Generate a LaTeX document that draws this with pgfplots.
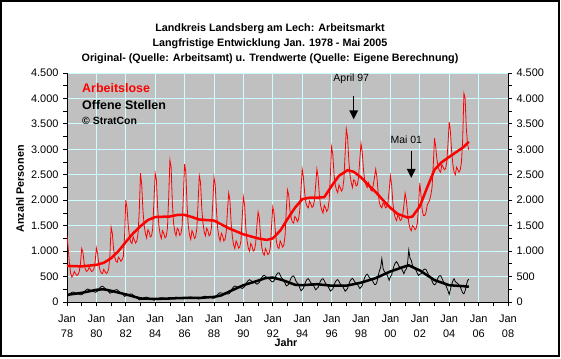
\documentclass[border=0pt]{standalone}
\usepackage{pgfplots}
\pgfplotsset{compat=1.18}
\usepackage{pgfplotstable}
\usepackage{fontspec}
\setmainfont{Liberation Sans}
\definecolor{plotbg}{RGB}{192,192,192}
\definecolor{gridc}{RGB}{204,255,255}
\definecolor{exred}{RGB}{255,0,0}

\pgfplotstableread{
al
1300
1050
750
560
490
530
600
560
520
540
600
750
1050
980
760
640
600
620
680
650
600
610
650
800
1060
950
740
620
570
560
640
600
560
580
650
900
1470
1350
1050
880
800
780
880
850
800
830
900
1300
2000
1850
1500
1280
1180
1150
1280
1220
1160
1200
1350
1800
2530
2300
1800
1500
1350
1260
1420
1380
1280
1300
1450
2000
2530
2400
1850
1500
1330
1250
1400
1350
1260
1290
1450
2050
2790
2650
1950
1550
1380
1300
1450
1420
1310
1340
1500
2100
2710
2550
1900
1500
1320
1230
1400
1350
1250
1280
1450
1950
2480
2350
1850
1550
1380
1300
1450
1400
1300
1330
1480
1950
2450
2300
1800
1450
1280
1200
1350
1300
1200
1230
1380
1800
2140
2000
1550
1280
1120
1050
1200
1150
1060
1080
1200
1650
2060
1900
1450
1200
1060
1000
1150
1100
1000
1020
1150
1500
1770
1650
1300
1080
960
920
1050
1000
930
960
1080
1500
1870
1750
1400
1180
1080
1050
1200
1150
1080
1120
1300
1800
2200
2100
1800
1650
1570
1550
1680
1650
1580
1620
1800
2200
2610
2450
2150
1950
1880
1850
1980
1930
1860
1880
2000
2300
2610
2450
2100
1900
1800
1750
1900
1850
1780
1820
2000
2500
3050
2900
2500
2300
2200
2150
2300
2250
2180
2220
2400
2900
3400
3250
2800
2500
2350
2250
2400
2380
2280
2300
2450
2800
3120
2950
2600
2400
2300
2250
2350
2300
2200
2180
2300
2450
2610
2450
2150
1950
1880
1850
1950
1920
1850
1870
1950
2200
2480
2300
1950
1750
1650
1600
1700
1680
1600
1620
1700
1900
2140
2000
1750
1550
1450
1400
1500
1480
1420
1450
1550
1900
2340
2100
1800
1700
1700
1750
1900
1950
2000
2100
2250
2700
3220
3050
2800
2650
2580
2550
2700
2650
2600
2620
2750
3100
3540
3350
2950
2700
2550
2500
2650
2600
2550
2600
2750
3200
4100
4000
3400
3100
2990
}\altable

\pgfplotstableread{
os
112
123
151
174
189
197
188
175
171
166
153
141
145
160
195
225
245
255
245
230
225
220
205
190
198
213
252
284
304
310
292
266
250
232
202
172
185
189
213
233
242
241
220
194
178
163
137
111
122
123
141
154
159
157
138
115
101
86
63
41
49
54
71
86
94
96
86
73
66
60
47
34
46
51
64
75
81
84
79
72
69
66
58
51
56
61
74
85
91
94
89
82
79
76
68
61
66
70
82
92
98
100
94
86
82
78
70
62
62
69
86
100
110
113
108
100
96
92
84
75
72
88
121
149
169
182
178
170
171
171
163
156
158
181
228
269
297
314
307
294
293
292
278
265
281
303
352
395
423
438
424
404
397
391
370
350
364
385
438
483
512
525
506
479
468
457
430
403
396
415
482
537
568
575
534
481
452
423
370
317
329
348
418
476
507
513
466
407
373
340
280
221
246
272
345
407
445
458
424
378
355
333
287
240
266
288
357
415
448
458
419
369
342
316
265
215
236
260
332
392
428
440
404
356
332
308
260
212
236
265
342
407
448
465
434
391
372
353
310
267
289
323
408
481
527
548
516
472
453
435
390
346
344
391
510
611
675
850
661
600
575
550
488
427
495
533
632
715
768
792
755
703
682
660
608
557
620
650
760
1020
860
820
720
680
650
620
560
520
550
554
598
633
647
641
595
539
503
468
412
356
339
357
426
483
514
518
471
411
376
342
282
221
150
253
342
415
458
400
380
363
332
300
238
177
160
220
330
420
450
}\ostable

\pgfplotstableread{
m v
0 710
12 700
24 730
30 770
36 860
42 1000
48 1180
54 1350
60 1490
66 1610
72 1670
84 1680
90 1710
96 1710
102 1670
108 1620
120 1600
132 1450
144 1330
156 1250
163 1220
168 1250
174 1400
180 1630
186 1850
192 2020
198 2050
204 2050
210 2060
216 2280
222 2480
229 2590
234 2560
240 2450
246 2300
252 2160
258 2000
264 1850
270 1730
278 1660
282 1680
288 1880
294 2250
300 2600
306 2750
312 2850
318 2950
324 3050
328 3150
}\altrend

\pgfplotstableread{
m v
0 140
12 180
24 240
30 250
36 220
48 150
54 110
60 70
72 60
84 70
96 80
108 80
120 100
126 130
132 200
144 330
156 420
162 470
168 480
176 430
186 340
192 330
204 350
216 320
228 320
240 380
252 470
264 600
276 700
279 720
288 620
300 430
312 330
324 310
328 300
}\ostrend

\begin{document}
\begin{tikzpicture}[x=1bp,y=1bp]
\useasboundingbox (0,0) rectangle (561,358);
\fill[white] (0,0) rectangle (561,358);
\draw[line width=2bp] (1,2) rectangle (559,357);

\pgfplotsset{
  myaxis/.style={
    scale only axis, width=441bp, height=229bp,
    at={(67bp,56bp)}, anchor=south west,
    xmin=0, xmax=360, ymin=0, ymax=4500,
    tick align=outside,
    major tick length=4bp, minor tick length=4bp,
    every tick/.style={black, line width=0.8bp},
    ticklabel style={font=\fontsize{11}{15}\selectfont},
    /pgf/number format/assume math mode=true,
    /pgf/number format/1000 sep={.},
    ytick={0,500,...,4500},
    minor ytick={250,750,...,4250},
    scaled y ticks=false,
  }
}

\begin{axis}[myaxis,
  axis x line*=bottom, axis y line*=left,
  axis line style={black, line width=0.8bp},
  axis background/.style={fill=plotbg},
  xtick={0,24,...,360},
  minor xtick={12,36,...,348},
  xticklabel style={align=center, yshift=-5bp},
  xticklabels={Jan\\78,Jan\\80,Jan\\82,Jan\\84,Jan\\86,Jan\\88,Jan\\90,Jan\\92,Jan\\94,Jan\\96,Jan\\98,Jan\\00,Jan\\02,Jan\\04,Jan\\06,Jan\\08},
  grid=major,
  major grid style={gridc, line width=1bp},
  yticklabel style={xshift=-1bp},
]
\addplot[exred, line width=0.8bp] table[x expr=\coordindex, y=al] {\altable};
\addplot[exred, line width=2.5bp] table[x=m, y=v] {\altrend};
\addplot[black, line width=0.8bp] table[x expr=\coordindex, y=os] {\ostable};
\addplot[black, line width=2.5bp] table[x=m, y=v] {\ostrend};

\node[font=\fontsize{10.5}{12}\selectfont] at (axis cs:232,4380) {April 97};
\draw[line width=0.9bp] (axis cs:234,4040) -- (axis cs:234,3750);
\fill (axis cs:234,3590) -- ++(-4.5bp,9bp) -- ++(9bp,0) -- cycle;
\node[font=\fontsize{10.5}{12}\selectfont] at (axis cs:277,3180) {Mai 01};
\draw[line width=0.9bp] (axis cs:281,2970) -- (axis cs:281,2600);
\fill (axis cs:281,2440) -- ++(-4.5bp,9bp) -- ++(9bp,0) -- cycle;
\end{axis}

\begin{axis}[myaxis,
  axis y line*=right, axis x line=none,
  axis line style={black, line width=0.8bp},
  yticklabel style={xshift=1bp},
]
\addplot[draw=none] coordinates {(0,0)};
\end{axis}

\node[font=\bfseries\fontsize{10.8}{12}\selectfont] at (270,329) {Landkreis Landsberg am Lech: Arbeitsmarkt};
\node[font=\bfseries\fontsize{10.8}{12}\selectfont] at (270,314) {Langfristige Entwicklung Jan. 1978 - Mai 2005};
\node[font=\bfseries\fontsize{10.8}{12}\selectfont] at (270,299.5) {Original- (Quelle: Arbeitsamt) u. Trendwerte (Quelle: Eigene Berechnung)};

\node[anchor=west, inner sep=0pt, text=exred, font=\bfseries\fontsize{12.5}{14}\selectfont] at (82,270) {Arbeitslose};
\node[anchor=west, inner sep=0pt, font=\bfseries\fontsize{12.5}{14}\selectfont] at (82,253) {Offene Stellen};
\node[anchor=west, inner sep=0pt, font=\bfseries\fontsize{10.5}{12}\selectfont] at (82,237) {© StratCon};

\node[rotate=90, font=\bfseries\fontsize{10.8}{12}\selectfont] at (20,169) {Anzahl Personen};
\node[font=\bfseries\fontsize{10.8}{12}\selectfont] at (286,15) {Jahr};
\end{tikzpicture}
\end{document}
